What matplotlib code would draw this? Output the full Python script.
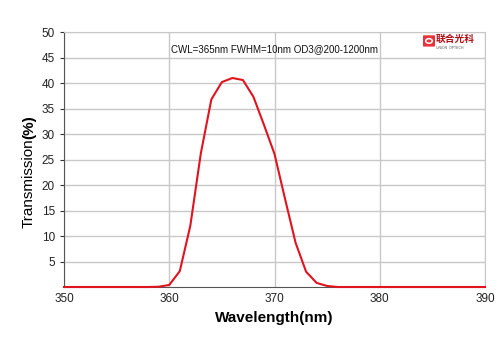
import matplotlib
matplotlib.use("Agg")
import matplotlib.pyplot as plt
from matplotlib.patches import FancyBboxPatch, Circle

plt.rcParams['font.family'] = ['Liberation Sans', 'Noto Sans CJK SC', 'DejaVu Sans']

wavelength = [350, 352, 354, 356, 358, 359, 360, 361, 362, 363, 364, 365, 366, 367, 368,
              369, 370, 371, 372, 373, 374, 375, 376, 378, 380, 385, 390]
transmission = [0, 0, 0, 0, 0, 0.05, 0.4, 3.1, 12.0, 26.2, 36.8, 40.2, 41.0, 40.6, 37.3,
                 31.8, 26.1, 17.3, 8.7, 3.0, 0.8, 0.2, 0, 0, 0, 0, 0]

xticks = [350, 360, 370, 380, 390]
yticks = [5, 10, 15, 20, 25, 30, 35, 40, 45, 50]

fig = plt.figure(figsize=(5, 3.53), dpi=100)
ax = fig.add_axes([0.128, 0.187, 0.842, 0.722])

ax.plot(wavelength, transmission, color='#e0141e', lw=1.5, zorder=3, clip_on=False)
ax.set_xlim(350, 390)
ax.set_ylim(0, 50)
ax.set_xticks(xticks)
ax.set_yticks(yticks)
ax.grid(True, color='#c8c8c8', lw=1)
ax.set_axisbelow(True)
for s in ['top', 'right']:
    ax.spines[s].set_color('#c8c8c8')
ax.spines['left'].set_color('#555555')
ax.spines['bottom'].set_color('#555555')
ax.tick_params(axis='both', labelsize=8.5, colors='#333333', length=3, width=0.8)
ax.tick_params(axis='x', length=0, pad=4)
for t in ax.get_xticklabels() + ax.get_yticklabels():
    t.set_color('#222222')

ax.set_xlabel('Wavelength(nm)', fontsize=11, fontweight='bold', labelpad=5)
fig.text(0.058, 0.482, 'Transmission', rotation=90, fontsize=11, ha='center', va='center')
fig.text(0.058, 0.64, '(%)', rotation=90, fontsize=11, fontweight='bold', ha='center', va='center')

ax.text(0.501, 0.935, 'CWL=365nm FWHM=10nm OD3@200-1200nm', transform=ax.transAxes,
        fontsize=7, ha='center', va='center', color='#111111')

# logo
lx, ly = 0.848, 0.870
fig.patches.append(FancyBboxPatch((lx, ly), 0.02, 0.028, boxstyle='round,pad=0.002',
                                  transform=fig.transFigure, fc='#e8323c', ec='none'))
fig.patches.append(Circle((lx + 0.010, ly + 0.014), 0.0065, transform=fig.transFigure,
                          fc='none', ec='white', lw=1.1))
fig.text(0.871, 0.889, '联合光科', fontsize=7, fontweight='bold', color='#b01018',
         ha='left', va='center', family=['Noto Sans CJK SC', 'DejaVu Sans'])
fig.text(0.871, 0.865, 'UNION  OPTECH', fontsize=2.5, color='#555555', ha='left', va='center')

fig.savefig('out.png', dpi=100)
